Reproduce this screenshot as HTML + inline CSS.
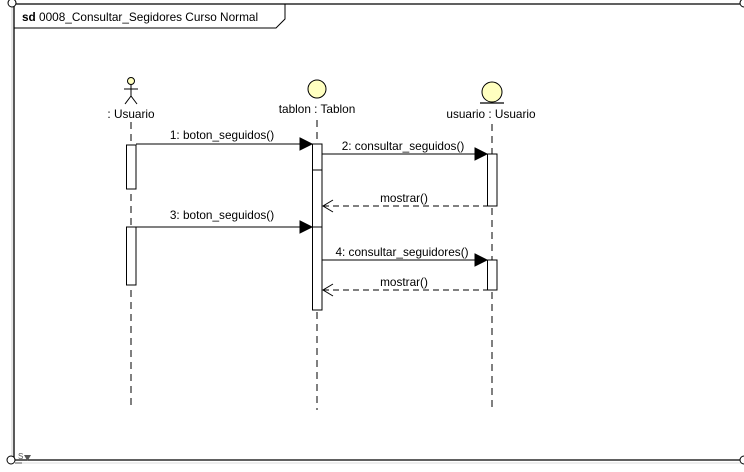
<!DOCTYPE html>
<html><head><style>
body{margin:0;background:#fff;}
svg text{font-family:"Liberation Sans",sans-serif;font-size:11.8px;fill:#000;}
</style></head><body>
<svg width="744" height="467" viewBox="0 0 744 467" xmlns="http://www.w3.org/2000/svg">
<rect x="0" y="0" width="744" height="467" fill="#fff"/>
<line x1="12" y1="4" x2="12" y2="460" stroke="#ccc" stroke-width="1"/>
<line x1="14" y1="4" x2="14" y2="460" stroke="#000" stroke-width="1.3"/>
<line x1="14" y1="4" x2="744" y2="4" stroke="#000" stroke-width="1.3"/>
<line x1="14" y1="460" x2="744" y2="460" stroke="#000" stroke-width="1.3"/>
<line x1="20" y1="463" x2="744" y2="463" stroke="#ddd" stroke-width="1"/>
<circle cx="12" cy="3" r="4" fill="#fff" stroke="#000"/>
<circle cx="11" cy="460" r="4" fill="#fff" stroke="#000"/>
<circle cx="744" cy="460" r="4" fill="#fff" stroke="#000"/>
<circle cx="744" cy="3" r="4" fill="#fff" stroke="#000"/>
<text x="18" y="459" style="font-size:8px;fill:#555">S</text>
<line x1="15" y1="463" x2="22" y2="463" stroke="#555"/>
<polygon points="24,455 31,455 27.5,461" fill="#555"/>
<polyline points="14,28 276,28 285,19 285,4" fill="none" stroke="#000" stroke-width="1"/>
<text x="22" y="21"><tspan font-weight="bold">sd</tspan> 0008_Consultar_Segidores Curso Normal</text>
<circle cx="131" cy="81" r="3.5" fill="#ffffc0" stroke="#000"/>
<line x1="131" y1="84" x2="131" y2="96" stroke="#000"/>
<line x1="124" y1="89" x2="138" y2="89" stroke="#000"/>
<line x1="131" y1="96" x2="125" y2="104" stroke="#000"/>
<line x1="131" y1="96" x2="137" y2="104" stroke="#000"/>
<text x="131" y="118" text-anchor="middle">: Usuario</text>
<circle cx="317" cy="89" r="9" fill="#ffffc0" stroke="#000"/>
<text x="317" y="113" text-anchor="middle">tablon : Tablon</text>
<circle cx="492" cy="92" r="10" fill="#ffffc0" stroke="#000"/>
<line x1="480" y1="103" x2="504" y2="103" stroke="#000" stroke-width="1.3"/>
<text x="491" y="118" text-anchor="middle">usuario : Usuario</text>
<g stroke="#000" stroke-dasharray="7,5">
<line x1="131" y1="122" x2="131" y2="410"/>
<line x1="317" y1="120" x2="317" y2="410"/>
<line x1="492" y1="124" x2="492" y2="410"/>
</g>
<g fill="#fff" stroke="#000">
<rect x="126.5" y="145" width="9.5" height="44"/>
<rect x="126.5" y="227" width="9.5" height="58"/>
<rect x="312.5" y="144" width="9.5" height="166"/>
<line x1="312.5" y1="170" x2="322" y2="170"/>
<line x1="312.5" y1="227" x2="322" y2="227"/>
<rect x="487.5" y="154" width="9.5" height="52"/>
<rect x="487.5" y="260" width="9.5" height="30"/>
</g>
<g stroke="#000">
<line x1="136" y1="144" x2="302" y2="144"/>
<polygon points="300,138 312,144 300,150" fill="#000"/>
<line x1="322" y1="154" x2="477" y2="154"/>
<polygon points="475,148 487,154 475,160" fill="#000"/>
<line x1="323" y1="206" x2="487" y2="206" stroke-dasharray="6,4"/>
<polyline points="333,200 323,206 333,212" fill="none"/>
<line x1="136" y1="227" x2="302" y2="227"/>
<polygon points="300,221 312,227 300,233" fill="#000"/>
<line x1="322" y1="260" x2="477" y2="260"/>
<polygon points="475,254 487,260 475,266" fill="#000"/>
<line x1="323" y1="290" x2="487" y2="290" stroke-dasharray="6,4"/>
<polyline points="333,284 323,290 333,296" fill="none"/>
</g>
<text x="222" y="139" text-anchor="middle">1: boton_seguidos()</text>
<text x="403" y="150" text-anchor="middle">2: consultar_seguidos()</text>
<text x="404" y="202" text-anchor="middle">mostrar()</text>
<text x="222" y="219" text-anchor="middle">3: boton_seguidos()</text>
<text x="402" y="256" text-anchor="middle">4: consultar_seguidores()</text>
<text x="404" y="286" text-anchor="middle">mostrar()</text>
</svg>
</body></html>
